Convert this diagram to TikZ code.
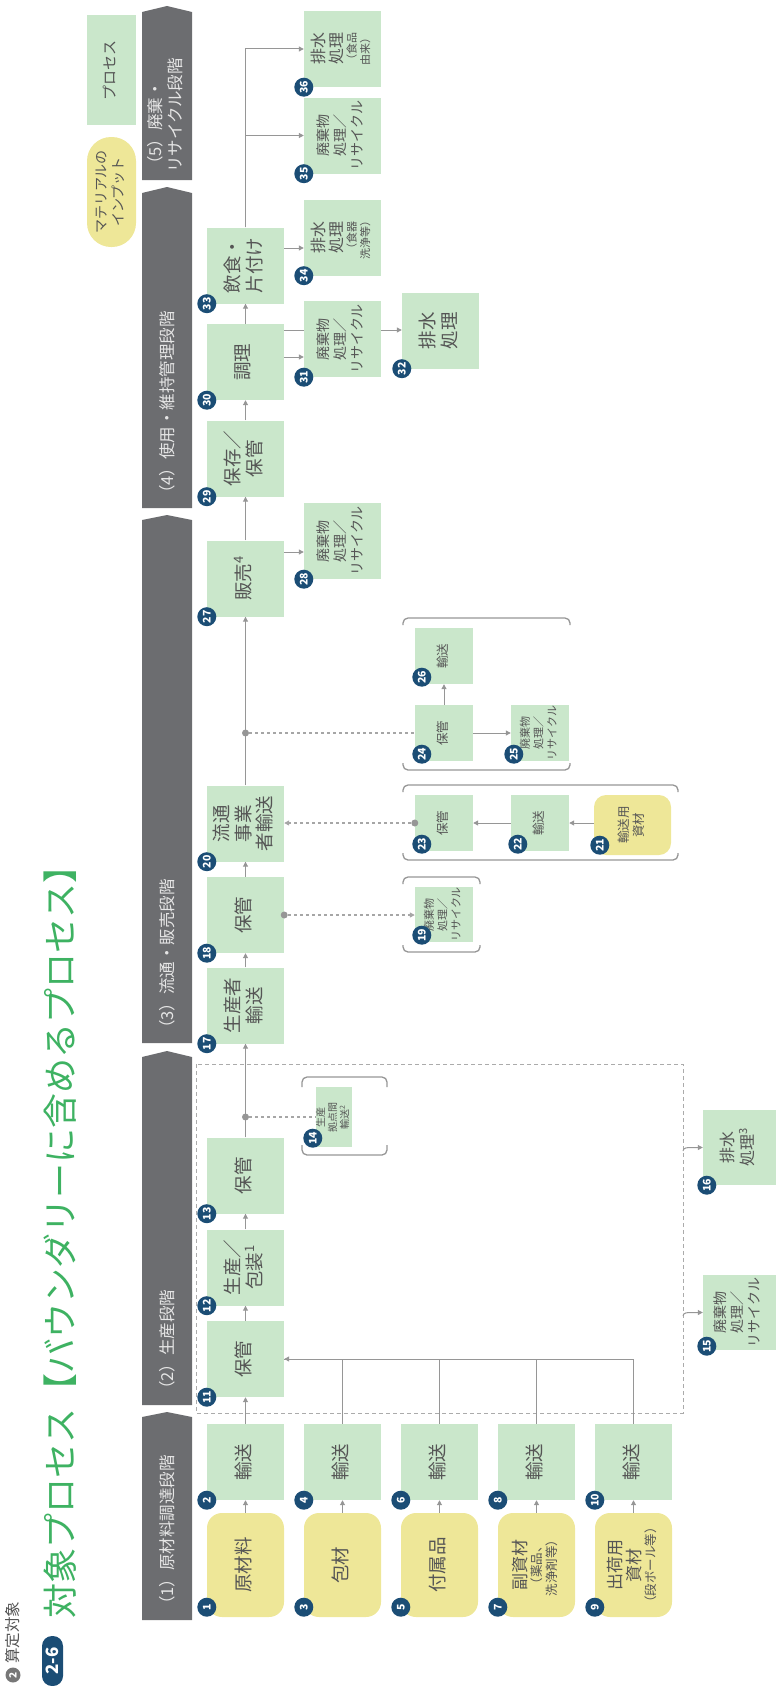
\documentclass[tikz,border=0pt]{standalone}
\usepackage{fontspec}
\setmainfont{Noto Sans CJK JP}
\usepackage{graphicx}
\usetikzlibrary{arrows.meta,backgrounds}

\definecolor{procgreen}{RGB}{202,231,203}
\definecolor{matyellow}{RGB}{238,231,152}
\definecolor{numblue}{RGB}{27,77,117}
\definecolor{stagegray}{RGB}{108,109,112}
\definecolor{linegray}{RGB}{150,150,150}
\definecolor{textgray}{RGB}{85,85,85}
\definecolor{titlegreen}{RGB}{62,178,98}

% vertical (rotated) text block
\newcommand{\vt}[1]{\rotatebox{90}{\begin{tabular}{@{}c@{}}#1\end{tabular}}}

\tikzset{
  proc/.style={fill=procgreen, text=textgray, inner sep=0pt, minimum width=77pt, minimum height=76pt},
  mat/.style={fill=matyellow, text=textgray, inner sep=0pt, minimum width=77pt, rounded corners=15pt},
  fbig/.style={font=\fontsize{18.5}{20.5}\selectfont},
  fmid/.style={font=\fontsize{14}{17}\selectfont},
  fsml/.style={font=\fontsize{12.5}{14.5}\selectfont},
  fsm/.style={font=\fontsize{11}{13.5}\selectfont},
  ftiny/.style={font=\fontsize{10}{11.5}\selectfont},
  num/.style={circle, fill=numblue, text=white, inner sep=0pt, minimum size=19pt, font=\fontsize{10.5}{10.5}\selectfont\bfseries},
  stagelbl/.style={anchor=south, inner sep=0pt, text=white!90!black, font=\fontsize{16.5}{20}\selectfont},
  conn/.style={draw=linegray, line width=1pt},
  arr/.style={conn, -{Triangle[length=5pt,width=5pt]}},
  dline/.style={draw=linegray!85, line width=1.2pt, dash pattern=on 3pt off 3pt},
  darr/.style={dline, -{Triangle[length=5pt,width=5pt]}},
  pdot/.style={circle, fill=linegray, inner sep=0pt, minimum size=7pt},
  brk/.style={draw=linegray, line width=1.3pt, rounded corners=5pt},
  bframe/.style={draw=linegray!80, line width=1pt, dash pattern=on 4pt off 3pt},
}

\begin{document}
\begin{tikzpicture}[x=1pt, y=-1pt]
  \useasboundingbox (0,0) rectangle (776,1686);

  % title
  \node[circle, fill=textgray!80, text=white, inner sep=0pt, minimum size=15pt, font=\fontsize{10}{10}\selectfont\bfseries] (t0) at (13,1675) {\rotatebox{90}{2}};
  \node[anchor=south, inner sep=0pt, text=textgray, font=\fontsize{15.5}{16}\selectfont] (t1) at (13,1664) {\rotatebox{90}{算定対象}};
  \node[fill=numblue, rounded corners=10pt, text=white, inner sep=0pt, minimum width=21pt, minimum height=50pt, font=\fontsize{17}{17}\selectfont\bfseries] (t2) at (52.5,1661) {\rotatebox{90}{2-6}};
  \node[anchor=south, inner sep=0pt, text=titlegreen, font=\fontsize{35}{35}\selectfont] (t3) at (60,1619) {\rotatebox{90}{対象プロセス【バウンダリーに含めるプロセス】}};

  % legend
  \node[proc, minimum width=49pt, minimum height=110pt, font=\fontsize{15}{17}\selectfont] (lg1) at (111.5,70) {\vt{プロセス}};
  \node[mat, minimum width=49pt, minimum height=110pt, rounded corners=24pt, font=\fontsize{14}{17}\selectfont] (lg2) at (111.5,192) {\vt{マテリアルの\\インプット}};

  % stage bars
  \fill[stagegray] (142,1620) -- (142,1417) -- (167,1412) -- (192,1417) -- (192,1620) -- cycle;
  \fill[stagegray] (142,1405) -- (142,1057) -- (167,1051) -- (192,1057) -- (192,1405) -- cycle;
  \fill[stagegray] (142,1043) -- (142,520) -- (167,515) -- (192,520) -- (192,1043) -- cycle;
  \fill[stagegray] (142,508) -- (142,193) -- (167,187) -- (192,193) -- (192,508) -- cycle;
  \fill[stagegray] (142,180) -- (142,12) -- (167,6) -- (192,12) -- (192,180) -- cycle;
  \node[stagelbl] (s1) at (167,1613) {\rotatebox{90}{（1）原材料調達段階}};
  \node[stagelbl] (s2) at (167,1398) {\rotatebox{90}{（2）生産段階}};
  \node[stagelbl] (s3) at (167,1037) {\rotatebox{90}{（3）流通・販売段階}};
  \node[stagelbl] (s4) at (167,502) {\rotatebox{90}{（4）使用・維持管理段階}};
  \node[stagelbl] (s5) at (167,173) {\rotatebox{90}{\begin{tabular}{@{}l@{}}（5）廃棄・\\リサイクル段階\end{tabular}}};

  % boundary of production stage
  \draw[bframe] (196,1064) rectangle (683,1413);

  % (1) raw material procurement
  \node[mat, minimum height=104pt, fbig] (b1) at (245.5,1565) {\vt{原材料}};
  \node[proc, fbig] (b2) at (245.5,1462) {\vt{輸送}};
  \node[mat, minimum height=104pt, fbig] (b3) at (342.5,1565) {\vt{包材}};
  \node[proc, fbig] (b4) at (342.5,1462) {\vt{輸送}};
  \node[mat, minimum height=104pt, fbig] (b5) at (439.5,1565) {\vt{付属品}};
  \node[proc, fbig] (b6) at (439.5,1462) {\vt{輸送}};
  \node[mat, minimum height=104pt, fsml] (b7) at (536.5,1565) {\vt{{\fontsize{17}{19}\selectfont 副資材}\\（薬品、\\洗浄剤等）}};
  \node[proc, fbig] (b8) at (536.5,1462) {\vt{輸送}};
  \node[mat, minimum height=104pt, fsml] (b9) at (633.5,1565) {\vt{{\fontsize{17}{19}\selectfont 出荷用}\\{\fontsize{17}{19}\selectfont 資材}\\（段ボール等）}};
  \node[proc, fbig] (b10) at (633.5,1462) {\vt{輸送}};

  % (2) production
  \node[proc, fbig] (b11) at (245.5,1359) {\vt{保管}};
  \node[proc, fbig] (b12) at (245.5,1267.5) {\vt{生産／\\包装\textsuperscript{1}}};
  \node[proc, fbig] (b13) at (245.5,1175.5) {\vt{保管}};
  \node[proc, ftiny, minimum width=36pt, minimum height=60pt] (b14) at (334,1117) {\vt{生産\\拠点間\\輸送\textsuperscript{2}}};
  \node[proc, fmid, minimum width=73pt, minimum height=75pt] (b15) at (739.5,1312.5) {\vt{廃棄物\\処理／\\リサイクル}};
  \node[proc, font=\fontsize{16}{19}\selectfont, minimum width=73pt, minimum height=75pt] (b16) at (739.5,1147.5) {\vt{排水\\処理\textsuperscript{3}}};

  % (3) distribution and sales
  \node[proc, fbig] (b17) at (245.5,1005.5) {\vt{生産者\\輸送}};
  \node[proc, fbig] (b18) at (245.5,915) {\vt{保管}};
  \node[proc, fsm, minimum width=58pt, minimum height=55pt] (b19) at (444,914.5) {\vt{廃棄物\\処理／\\リサイクル}};
  \node[proc, fbig] (b20) at (245.5,823.5) {\vt{流通\\事業\\者輸送}};
  \node[mat, fsml, minimum height=60pt, rounded corners=12pt] (b21) at (632.5,825) {\vt{輸送用\\資材}};
  \node[proc, fsml, minimum width=58pt, minimum height=56pt] (b22) at (540,823) {\vt{輸送}};
  \node[proc, fsml, minimum width=58pt, minimum height=56pt] (b23) at (444,823) {\vt{保管}};
  \node[proc, fsml, minimum width=58pt, minimum height=56pt] (b24) at (444,733) {\vt{保管}};
  \node[proc, fsm, minimum width=58pt, minimum height=56pt] (b25) at (540,733) {\vt{廃棄物\\処理／\\リサイクル}};
  \node[proc, fsml, minimum width=58pt, minimum height=56pt] (b26) at (444,656) {\vt{輸送}};
  \node[proc, fbig] (b27) at (245.5,578.5) {\vt{販売\textsuperscript{4}}};
  \node[proc, fmid] (b28) at (342.5,541) {\vt{廃棄物\\処理／\\リサイクル}};

  % (4) use and maintenance
  \node[proc, fbig] (b29) at (245.5,458.5) {\vt{保存／\\保管}};
  \node[proc, fbig] (b30) at (245.5,362) {\vt{調理}};
  \node[proc, fmid] (b31) at (342.5,339) {\vt{廃棄物\\処理／\\リサイクル}};
  \node[proc, fbig] (b32) at (440.5,330.5) {\vt{排水\\処理}};
  \node[proc, fbig] (b33) at (245.5,265.5) {\vt{飲食・\\片付け}};

  % (5) disposal and recycling
  \node[proc, fsm] (b34) at (342.5,237.5) {\vt{{\fontsize{16}{18}\selectfont 排水}\\{\fontsize{16}{18}\selectfont 処理}\\（食器\\洗浄等）}};
  \node[proc, fmid] (b35) at (342.5,135.5) {\vt{廃棄物\\処理／\\リサイクル}};
  \node[proc, fsm] (b36) at (342.5,49) {\vt{{\fontsize{16}{18}\selectfont 排水}\\{\fontsize{16}{18}\selectfont 処理}\\（食品\\由来）}};

  % brackets round the optional steps
  \draw[brk] (302,1087) -- (302,1077) -- (387,1077) -- (387,1087);
  \draw[brk] (302,1145) -- (302,1155) -- (387,1155) -- (387,1145);
  \draw[brk] (403,884) -- (403,877) -- (480,877) -- (480,884);
  \draw[brk] (403,945) -- (403,952) -- (480,952) -- (480,945);
  \draw[brk] (403,792) -- (403,785) -- (678,785) -- (678,792);
  \draw[brk] (403,853) -- (403,860) -- (678,860) -- (678,853);
  \draw[brk] (403,625) -- (403,618) -- (570,618) -- (570,625);
  \draw[brk] (403,763) -- (403,770) -- (570,770) -- (570,763);

  % helper heights
  \coordinate (h28) at (0,552);
  \coordinate (h31) at (0,357);
  \coordinate (h32) at (0,330);
  \coordinate (h34) at (0,248);
  \coordinate (f15) at (683,1316);
  \coordinate (f16) at (683,1151);

  % connectors
  \draw[arr] (b1.north) -- (b2.south);
  \draw[arr] (b3.north) -- (b4.south);
  \draw[arr] (b5.north) -- (b6.south);
  \draw[arr] (b7.north) -- (b8.south);
  \draw[arr] (b9.north) -- (b10.south);
  \draw[arr] (b2.north) -- (b11.south);
  \draw[conn] (b4.north) |- (b11.east);
  \draw[conn] (b6.north) |- (b11.east);
  \draw[conn] (b8.north) |- (b11.east);
  \draw[arr] (b10.north) |- (b11.east);
  \draw[arr] (b11.north) -- (b12.south);
  \draw[arr] (b12.north) -- (b13.south);
  \draw[arr] (b13.north) -- (b17.south);
  \node[pdot] (p14) at (b14.west -| b13.north) {};
  \draw[dline] (p14) -- (b14.west);
  \draw[arr] (f15) to[out=90,in=180] ([xshift=-12pt]b15.west) -- (b15.west);
  \draw[arr] (f16) to[out=90,in=180] ([xshift=-12pt]b16.west) -- (b16.west);
  \draw[arr] (b17.north) -- (b18.south);
  \draw[arr] (b18.north) -- (b20.south);
  \node[pdot] (p19) at (b18.east) {};
  \draw[darr] (p19) -- (b18.east -| b19.west);
  \draw[arr] (b21.west |- b22.east) -- (b22.east);
  \draw[arr] (b22.west) -- (b23.east);
  \node[pdot] (p23) at (b23.west) {};
  \draw[darr] (p23) -- (b23.west -| b20.east);
  \draw[arr] (b20.north) -- (b27.south);
  \node[pdot] (p24) at (b24.west -| b20.north) {};
  \draw[dline] (p24) -- (b24.west);
  \draw[arr] (b24.north) -- (b26.south);
  \draw[arr] (b24.east) -- (b25.west);
  \draw[arr] (b27.east |- h28) -- (b28.west |- h28);
  \draw[arr] (b27.north) -- (b29.south);
  \draw[arr] (b29.north) -- (b30.south);
  \draw[arr] (b30.east |- h31) -- (b31.west |- h31);
  \begin{scope}[on background layer]
    \draw[arr] (b30.east |- h32) -- (b32.west |- h32);
  \end{scope}
  \draw[arr] (b30.north) -- (b33.south);
  \draw[arr] (b33.east |- h34) -- (b34.west |- h34);
  \draw[arr] (b33.north) |- (b35.west);
  \draw[arr] (b33.north) |- (b36.west);

  % step numbers
  \node[num] (n1) at ([yshift=10pt]b1.south west) {\rotatebox{90}{1}};
  \node[num] (n2) at (b2.south west) {\rotatebox{90}{2}};
  \node[num] (n3) at ([yshift=10pt]b3.south west) {\rotatebox{90}{3}};
  \node[num] (n4) at (b4.south west) {\rotatebox{90}{4}};
  \node[num] (n5) at ([yshift=10pt]b5.south west) {\rotatebox{90}{5}};
  \node[num] (n6) at (b6.south west) {\rotatebox{90}{6}};
  \node[num] (n7) at ([yshift=10pt]b7.south west) {\rotatebox{90}{7}};
  \node[num] (n8) at (b8.south west) {\rotatebox{90}{8}};
  \node[num] (n9) at ([yshift=10pt]b9.south west) {\rotatebox{90}{9}};
  \node[num] (n10) at (b10.south west) {\rotatebox{90}{10}};
  \node[num] (n11) at (b11.south west) {\rotatebox{90}{11}};
  \node[num] (n12) at (b12.south west) {\rotatebox{90}{12}};
  \node[num] (n13) at (b13.south west) {\rotatebox{90}{13}};
  \node[num] (n14) at ([shift={(-3pt,9pt)}]b14.south west) {\rotatebox{90}{14}};
  \node[num] (n15) at ([shift={(4pt,4pt)}]b15.south west) {\rotatebox{90}{15}};
  \node[num] (n16) at ([shift={(4pt,0pt)}]b16.south west) {\rotatebox{90}{16}};
  \node[num] (n17) at (b17.south west) {\rotatebox{90}{17}};
  \node[num] (n18) at (b18.south west) {\rotatebox{90}{18}};
  \node[num] (n19) at ([shift={(7pt,7pt)}]b19.south west) {\rotatebox{90}{19}};
  \node[num] (n20) at (b20.south west) {\rotatebox{90}{20}};
  \node[num] (n21) at ([shift={(6pt,10pt)}]b21.south west) {\rotatebox{90}{21}};
  \node[num] (n22) at ([shift={(7pt,7pt)}]b22.south west) {\rotatebox{90}{22}};
  \node[num] (n23) at ([shift={(7pt,7pt)}]b23.south west) {\rotatebox{90}{23}};
  \node[num] (n24) at ([shift={(7pt,7pt)}]b24.south west) {\rotatebox{90}{24}};
  \node[num] (n25) at ([shift={(3pt,7pt)}]b25.south west) {\rotatebox{90}{25}};
  \node[num] (n26) at ([shift={(7pt,7pt)}]b26.south west) {\rotatebox{90}{26}};
  \node[num] (n27) at (b27.south west) {\rotatebox{90}{27}};
  \node[num] (n28) at (b28.south west) {\rotatebox{90}{28}};
  \node[num] (n29) at (b29.south west) {\rotatebox{90}{29}};
  \node[num] (n30) at (b30.south west) {\rotatebox{90}{30}};
  \node[num] (n31) at (b31.south west) {\rotatebox{90}{31}};
  \node[num] (n32) at (b32.south west) {\rotatebox{90}{32}};
  \node[num] (n33) at (b33.south west) {\rotatebox{90}{33}};
  \node[num] (n34) at (b34.south west) {\rotatebox{90}{34}};
  \node[num] (n35) at (b35.south west) {\rotatebox{90}{35}};
  \node[num] (n36) at (b36.south west) {\rotatebox{90}{36}};
\end{tikzpicture}
\end{document}
